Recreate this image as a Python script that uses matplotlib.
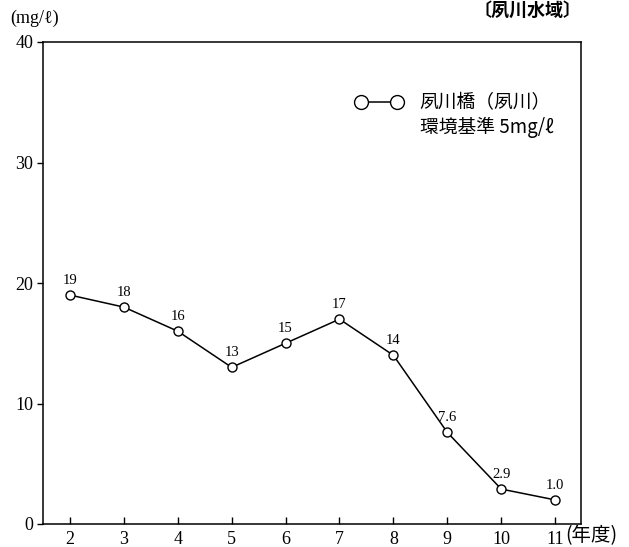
import matplotlib
matplotlib.use("Agg")
import matplotlib.pyplot as plt
from matplotlib.lines import Line2D

years = [2, 3, 4, 5, 6, 7, 8, 9, 10, 11]
values = [19, 18, 16, 13, 15, 17, 14, 7.6, 2.9, 2.0]
value_labels = ["19", "18", "16", "13", "15", "17", "14", "7.6", "2.9", "1.0"]
yticks = [0, 10, 20, 30, 40]
title = "〔夙川水域〕"
series_name = "夙川橋（夙川）"
standard_text = "環境基準 5mg/ℓ"
unit_text = "(mg/ℓ)"
xunit_text = "(年度)"

JP = ["Noto Sans CJK JP", "DejaVu Sans"]
NUM = ["Liberation Serif", "DejaVu Serif"]

fig = plt.figure(figsize=(6.29, 5.47), dpi=100)
ax = fig.add_axes([43/629, 1 - 524/547, (581-43)/629, (524-42)/547])

ax.plot(years, values, color="black", lw=1.1, marker="o", ms=6.5,
        mfc="white", mec="black", mew=1.0, zorder=3)
for x, y, t in zip(years, values, value_labels):
    ax.annotate(t, (x, y), xytext=(0, 6), textcoords="offset points",
                ha="center", va="bottom", fontsize=10.5, family=NUM)

ax.set_xlim(1.5, 11.48)
ax.set_ylim(0, 40)
ax.set_xticks(years)
ax.set_xticklabels([str(y) for y in years], family=NUM, fontsize=13)
ax.set_yticks(yticks)
ax.set_yticklabels([str(v) for v in yticks], family=NUM, fontsize=13)
ax.tick_params(axis="x", direction="in", length=5, width=1, pad=5)
ax.tick_params(axis="y", direction="out", length=4, width=1, pad=3)
for s in ax.spines.values():
    s.set_linewidth(1.1)

fig.text(565/629, 1 - 536/547, xunit_text, ha="left", va="center",
         fontsize=14, family=JP)

fig.text(10/629, 1 - 18/547, unit_text, ha="left", va="center",
         fontsize=13, family=NUM)
fig.text(581/629, 1 - 1/547, title, ha="right", va="top",
         fontsize=13, family=JP, fontweight="bold")

h1 = Line2D([], [], color="black", lw=1.1, marker="o", ms=10,
            mfc="white", mec="black", mew=1.0)
h2 = Line2D([], [], color="none")
leg = ax.legend([h1, h2], [series_name, standard_text], loc="upper left",
                bbox_to_anchor=(0.55, 0.93), frameon=False, numpoints=2,
                handlelength=2.5, handletextpad=0.9, labelspacing=0.15,
                prop={"family": JP, "size": 13.5})

fig.savefig("out.png", dpi=100)
